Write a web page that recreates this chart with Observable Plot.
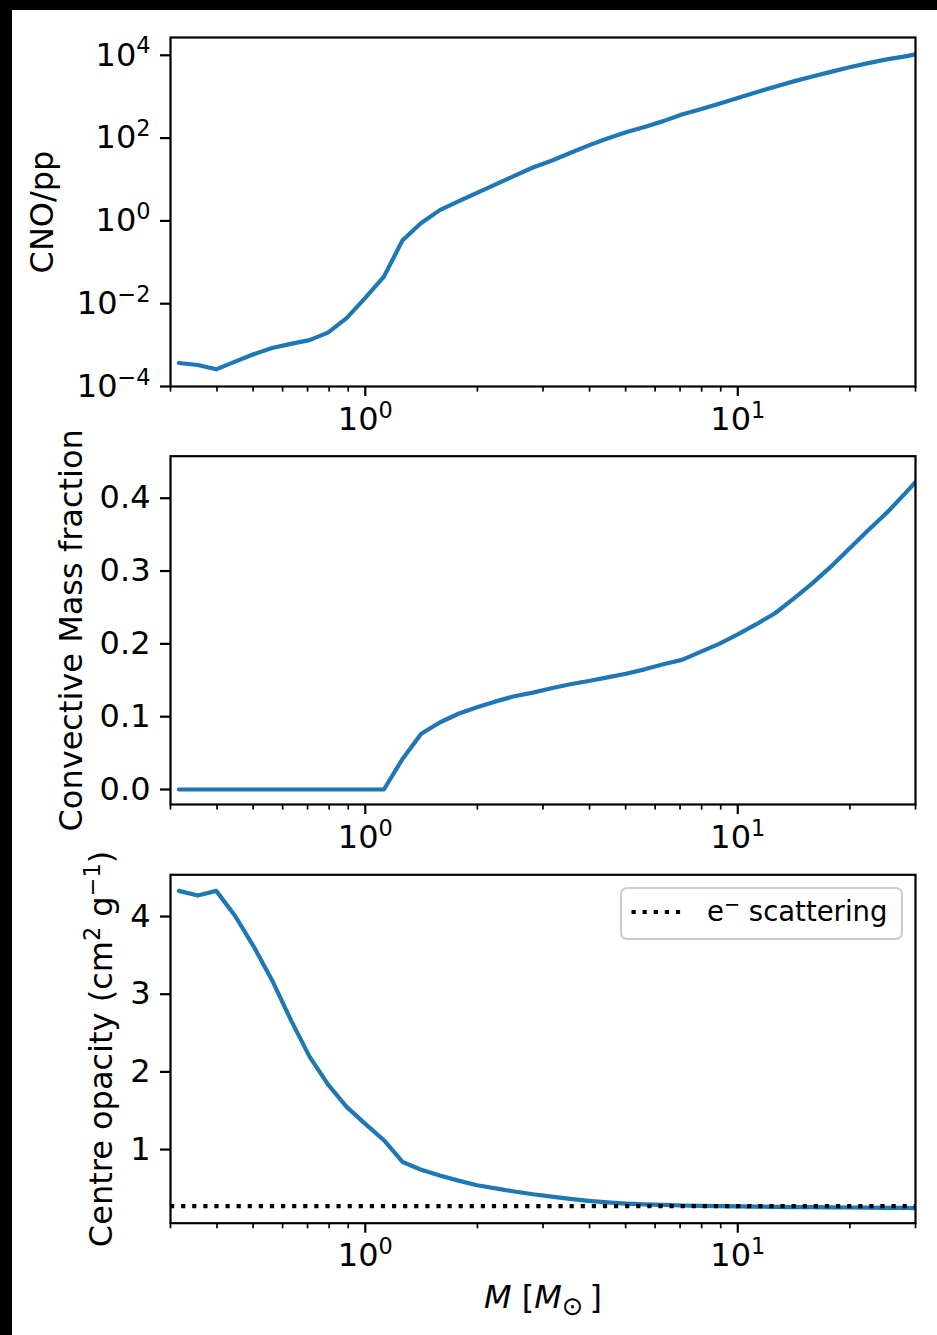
<!DOCTYPE html>
<html><head><meta charset="utf-8">
<script src="https://cdn.jsdelivr.net/npm/d3@7"></script>
<script src="https://cdn.jsdelivr.net/npm/@observablehq/plot@0.6"></script>
<style>
html,body{margin:0;padding:0;background:#000;}
#page{position:absolute;left:12px;top:10px;width:925px;height:1325px;background:#fff;overflow:hidden;font-family:"DejaVu Sans";}
#page svg{display:block;}
#legend{position:absolute;left:608px;top:877px;}
</style></head><body><div id="page"></div>
<script>
// ---- data ----
const mass = [0.316,0.355,0.398,0.447,0.501,0.562,0.631,0.708,0.794,0.891,1.0,1.122,1.259,1.413,1.585,1.778,1.995,2.239,2.512,2.818,3.162,3.548,3.981,4.467,5.012,5.623,6.310,7.079,7.943,8.913,10.0,11.22,12.59,14.13,15.85,17.78,19.95,22.39,25.12,28.18,31.62];
const cnoPP = [3.7e-4,3.3e-4,2.6e-4,4.0e-4,6.0e-4,8.5e-4,1.07e-3,1.32e-3,2.0e-3,4.5e-3,0.0138,0.045,0.34,0.89,1.82,2.95,4.73,7.6,12.2,19.5,28.4,43.7,66.8,97.7,138,186,257,372,495,676,933,1288,1738,2344,3090,3981,5129,6457,7943,9441,11480];
const convFrac = [0,0,0,0,0,0,0,0,0,0,0,0,0.042,0.0765,0.092,0.104,0.113,0.121,0.128,0.133,0.139,0.1445,0.149,0.154,0.159,0.165,0.172,0.178,0.189,0.200,0.213,0.227,0.242,0.262,0.283,0.306,0.331,0.356,0.380,0.407,0.435];
const centreOpacity = [4.33,4.27,4.33,4.01,3.62,3.18,2.67,2.2,1.84,1.55,1.33,1.12,0.84,0.74,0.665,0.60,0.54,0.50,0.46,0.425,0.395,0.365,0.34,0.32,0.305,0.295,0.287,0.28,0.276,0.272,0.268,0.265,0.262,0.26,0.258,0.256,0.254,0.252,0.25,0.248,0.246];
const eScattering = 0.272;

const xMajorTicks = [1, 10];
const xMajorLabels = ["10^{0}", "10^{1}"];
const xMinorTicks = [0.3,0.4,0.5,0.6,0.7,0.8,0.9,2,3,4,5,6,7,8,9,20,30];
const y1Ticks = [1e-4, 1e-2, 1, 1e2, 1e4];
const y1Labels = ["10^{−4}", "10^{−2}", "10^{0}", "10^{2}", "10^{4}"];
const y2Ticks = [0, 0.1, 0.2, 0.3, 0.4];
const y2Labels = ["0.0", "0.1", "0.2", "0.3", "0.4"];
const y3Ticks = [1, 2, 3, 4];
const y3Labels = ["1", "2", "3", "4"];
const yLabels = ["CNO/pp", "Convective Mass fraction", "Centre opacity (cm^{2} g^{−1})"];
const xLabel = "$M$ [$M$_{⊙}\u2009]";
const legendLabel = "e^{−} scattering";

// ---- layout ----
const W = 925, ML = 158, MR = 22, FS = 32;
const blue = "#1f77b4";

function richify(root) {
  root.querySelectorAll("text").forEach(t => {
    const s = t.textContent;
    if (!/\^\{|_\{|\$/.test(s)) return;
    const fs = parseFloat(getComputedStyle(t).fontSize) || FS;
    const parts = s.split(/(\^\{[^}]*\}|_\{[^}]*\}|\$[^$]*\$)/).filter(p => p !== "");
    while (t.firstChild) t.removeChild(t.firstChild);
    let cur = 0;
    for (const p of parts) {
      const ts = document.createElementNS("http://www.w3.org/2000/svg", "tspan");
      let target = 0, txt = p;
      if (p.startsWith("^{")) { target = -0.38 * fs; txt = p.slice(2, -1); ts.setAttribute("font-size", (0.7 * fs) + "px"); }
      else if (p.startsWith("_{")) { target = 0.22 * fs; txt = p.slice(2, -1); ts.setAttribute("font-size", (0.8 * fs) + "px"); }
      else if (p.startsWith("$")) { txt = p.slice(1, -1); ts.setAttribute("font-style", "italic"); }
      if (target !== cur) ts.setAttribute("dy", (target - cur).toFixed(2));
      cur = target;
      ts.textContent = txt;
      t.appendChild(ts);
    }
  });
}

function panel({height, mt, mb, yScale, yTicks, yTickLabels, values, ylabel, labelDx, extra = [], after = []}) {
  const data = mass.map((m, i) => ({m, v: values[i]}));
  return Plot.plot({
    width: W, height, marginLeft: ML, marginRight: MR, marginTop: mt, marginBottom: mb,
    style: {fontFamily: "DejaVu Sans", fontSize: FS + "px", color: "black", background: "white", overflow: "visible"},
    x: {type: "log", domain: [0.3, 30]},
    y: yScale,
    marks: [
      Plot.line(data, {x: "m", y: "v", stroke: blue, strokeWidth: 4.2, clip: true, strokeLinejoin: "round"}),
      ...extra,
      Plot.axisX({ticks: xMinorTicks, tickSize: 5.6, strokeWidth: 1.7, tickFormat: () => "", label: null}),
      Plot.axisX({ticks: xMajorTicks, tickSize: 10, tickPadding: 10.5, strokeWidth: 2.2,
        tickFormat: d => xMajorLabels[xMajorTicks.indexOf(d)], label: null}),
      Plot.axisY({ticks: yTicks, tickSize: 10, tickPadding: 10, strokeWidth: 2.2,
        tickFormat: d => yTickLabels[yTicks.indexOf(d)], label: null}),
      Plot.frame({stroke: "black", strokeWidth: 2.2}),
      Plot.text([ylabel], {text: d => d, frameAnchor: "left", dx: labelDx, rotate: -90,
        textAnchor: "middle", lineAnchor: "middle", fontSize: FS}),
      ...after
    ]
  });
}

const page = document.getElementById("page");

const p1 = panel({height: 411, mt: 27, mb: 35,
  yScale: {type: "log", domain: [1e-4, 26900]}, yTicks: y1Ticks, yTickLabels: y1Labels,
  values: cnoPP, ylabel: yLabels[0], labelDx: -128});
const p2 = panel({height: 418, mt: 34.7, mb: 35,
  yScale: {domain: [-0.0206, 0.4577]}, yTicks: y2Ticks, yTickLabels: y2Labels,
  values: convFrac, ylabel: yLabels[1], labelDx: -99});
const p3 = panel({height: 496, mt: 35.3, mb: 112.3,
  yScale: {domain: [0.052, 4.537]}, yTicks: y3Ticks, yTickLabels: y3Labels,
  values: centreOpacity, ylabel: yLabels[2], labelDx: -69,
  extra: [Plot.ruleY([eScattering], {stroke: "black", strokeWidth: 4.2, strokeDasharray: "4.2,6.9"})],
  after: [Plot.text([xLabel], {text: d => d, frameAnchor: "bottom", dy: 75, lineAnchor: "middle", fontSize: FS})]
});
page.append(p1, p2, p3);

// legend
const leg = d3.create("svg").attr("id", "legend").attr("width", 286).attr("height", 56)
  .style("font-family", "DejaVu Sans").style("overflow", "visible");
leg.append("rect").attr("x", 1).attr("y", 1).attr("width", 281).attr("height", 51).attr("rx", 6)
  .attr("fill", "white").attr("fill-opacity", 0.8).attr("stroke", "#cccccc").attr("stroke-width", 2);
leg.append("line").attr("x1", 11.5).attr("x2", 67).attr("y1", 25).attr("y2", 25)
  .attr("stroke", "black").attr("stroke-width", 4.2).attr("stroke-dasharray", "4.2,6.9");
leg.append("text").attr("x", 87).attr("y", 34).attr("font-size", "27.5px").text(legendLabel);
page.append(leg.node());

richify(page);
</script></body></html>
